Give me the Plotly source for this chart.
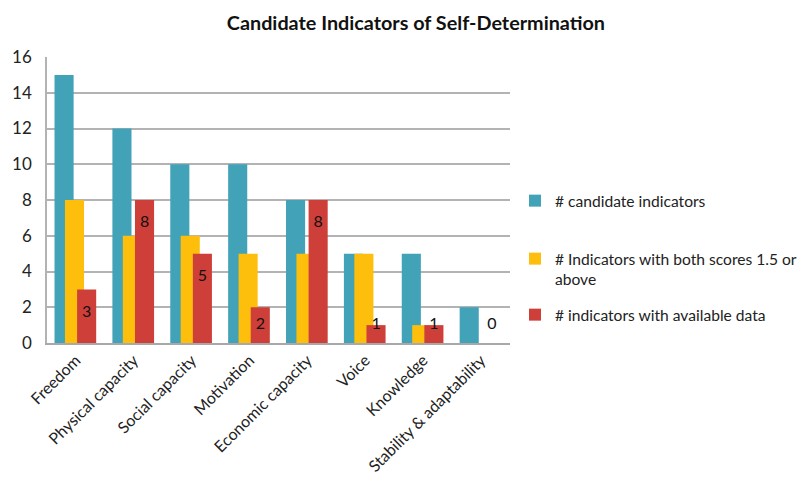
import plotly.graph_objects as go

categories = ["Freedom", "Physical capacity", "Social capacity", "Motivation",
              "Economic capacity", "Voice", "Knowledge", "Stability & adaptability"]
candidate = [15, 12, 10, 10, 8, 5, 5, 2]
both_scores = [8, 6, 6, 5, 5, 5, 1, 0]
available = [3, 8, 5, 2, 8, 1, 1, 0]
y_ticks = [0, 2, 4, 6, 8, 10, 12, 14, 16]

names = ["# candidate indicators",
         "# Indicators with both scores 1.5 or<br>above",
         "# indicators with available data"]
colors = ["#41A2B8", "#FDBF0C", "#CF3F3A"]
offsets = [-0.37, -0.19, 0.02]
W = 0.33
FONT = "Lato, Open Sans, sans-serif"
legend_ids = ["legend", "legend2", "legend3"]

xs = list(range(len(categories)))
fig = go.Figure()
for vals, nm, col, off, lg in zip([candidate, both_scores, available], names, colors, offsets, legend_ids):
    fig.add_trace(go.Bar(x=xs, y=vals, name=nm, marker=dict(color=col, line=dict(width=0)),
                         offset=off, width=W, legend=lg))

label_y = [max(v - 1.3, 1.0) for v in available]
fig.add_trace(go.Scatter(x=[x + offsets[2] + W / 2 for x in xs], y=label_y,
                         text=[str(v) for v in available], mode="text",
                         textfont=dict(size=16, color="#111", family=FONT),
                         showlegend=False, hoverinfo="skip"))

H = 485
legend_common = dict(xref="container", yref="container", x=507 / 811, xanchor="left",
                     yanchor="middle", font=dict(size=15.6, color="#222"), itemwidth=30,
                     bgcolor="rgba(0,0,0,0)")
fig.update_layout(
    width=811, height=H, barmode="overlay",
    margin=dict(l=39, r=309, t=49, b=150, autoexpand=False),
    paper_bgcolor="white", plot_bgcolor="white",
    font=dict(family=FONT, size=15, color="#222"),
    title=dict(text="<b>Candidate Indicators of Self-Determination</b>", x=0.503, xanchor="center",
               y=0.968, yanchor="middle", font=dict(size=19.8, color="#111")),
    legend=dict(y=1 - 193 / H, **legend_common),
    legend2=dict(y=1 - 261 / H, valign="top", **legend_common),
    legend3=dict(y=1 - 307 / H, **legend_common),
    showlegend=True,
)
fig.update_xaxes(range=[-0.5, len(categories) - 0.5], tickmode="array", tickvals=xs,
                 ticktext=categories, tickangle=-45, showgrid=False, showline=True,
                 linecolor="#A8A8A8", linewidth=1.5, ticks="", zeroline=False, automargin=False,
                 tickfont=dict(size=16, color="#222"))
fig.update_yaxes(range=[0, 16], tickmode="array", tickvals=y_ticks, showgrid=True,
                 gridcolor="#B3B3B3", gridwidth=1.5, showline=True, linecolor="#B3B3B3",
                 linewidth=1.5, zeroline=False, ticks="", ticklabelstandoff=10, automargin=False,
                 tickfont=dict(size=17, color="#222"))

fig.write_html("out.html")
